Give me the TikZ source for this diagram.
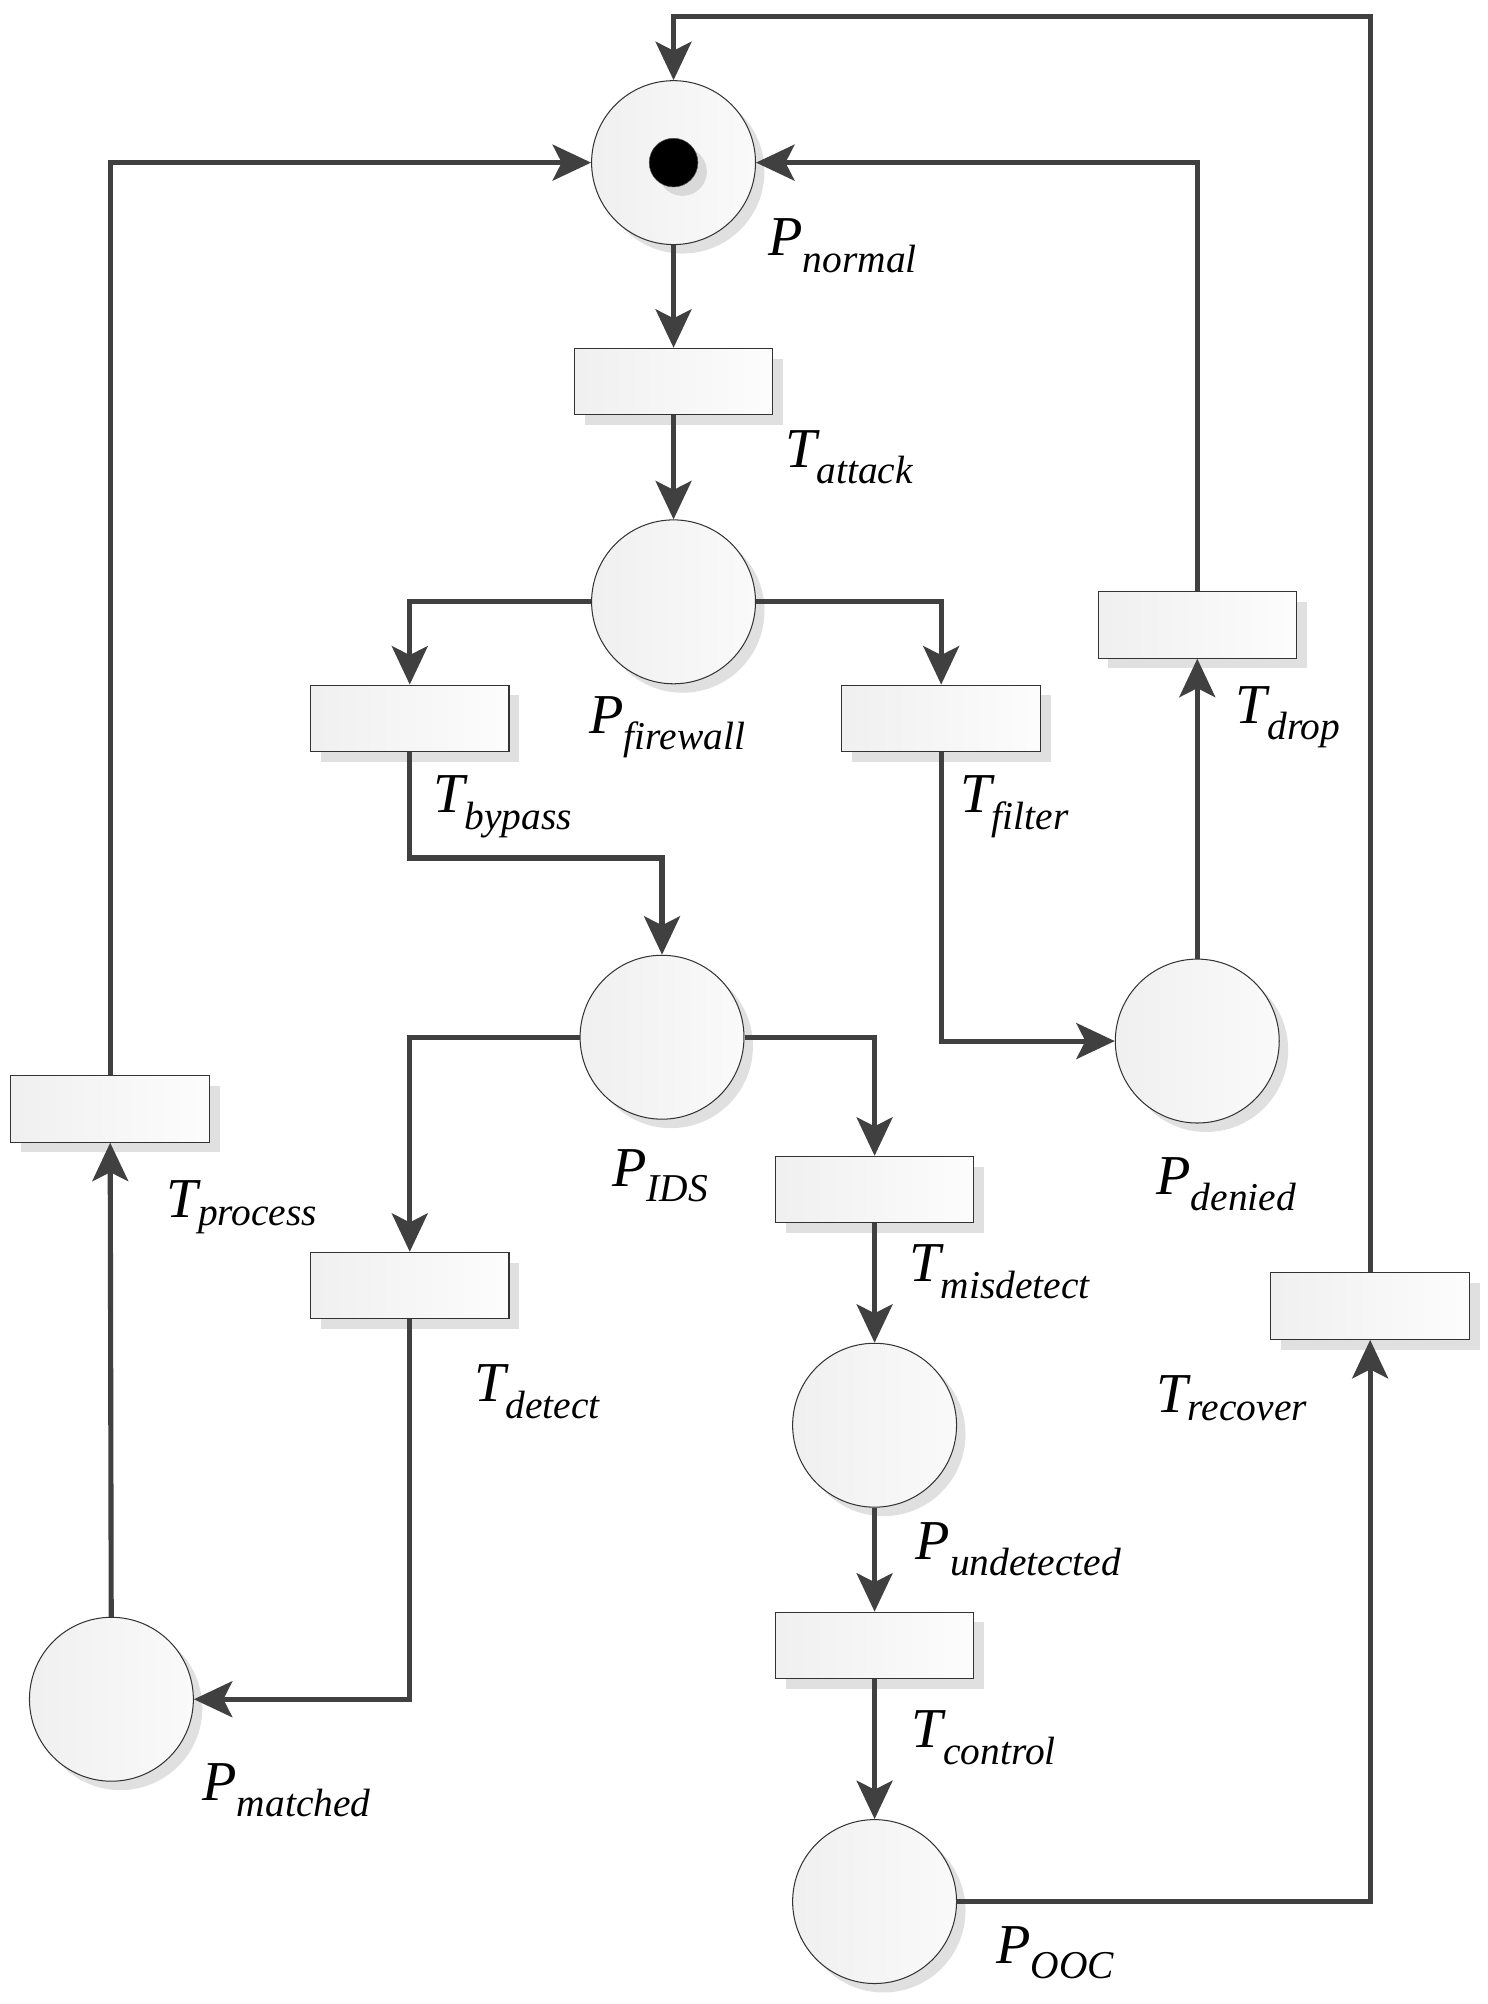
\documentclass[tikz,border=0pt]{standalone}
\usepackage{fontspec}
\setmainfont{Liberation Serif}
\usetikzlibrary{arrows.meta,shadows}
\begin{document}
\begin{tikzpicture}[x=1pt,y=-1pt,
  place/.style={circle,draw=black!80,line width=0.8pt,minimum size=128pt,inner sep=0pt,left color=black!6,right color=black!2,drop shadow={shadow xshift=7pt,shadow yshift=-7pt,fill=black!12,opacity=1}},
  trans/.style={rectangle,draw=black!80,line width=0.8pt,minimum width=155pt,minimum height=52pt,inner sep=0pt,left color=black!6,right color=black!1,drop shadow={shadow xshift=8pt,shadow yshift=-8pt,fill=black!12,opacity=1}},
  arc/.style={draw=black!75,line width=4pt,-{Stealth[length=30pt,width=28pt,inset=7pt]}},
  lab/.style={anchor=west,font=\fontsize{44}{50}\selectfont\itshape,inner sep=0pt}]
\useasboundingbox (0,0) rectangle (1162,1565);
\node[place] (Pn) at (526,127) {};
\node[place] (Pf) at (526,470) {};
\node[place] (Pi) at (517,810) {};
\node[place] (Pd) at (935,813) {};
\node[place] (Pu) at (683,1113) {};
\node[place] (Pm) at (87,1327) {};
\node[place] (Po) at (683,1485) {};
\fill[black!15] (533,134) circle (19);
\node[circle,fill=black,draw=black!70,minimum size=38pt,inner sep=0pt] (tok) at (526,127) {};
\node[trans] (Ta) at (526,298) {};
\node[trans] (Tb) at (320,561) {};
\node[trans] (Tf) at (735,561) {};
\node[trans] (Td) at (935,488) {};
\node[trans] (Tp) at (86,866) {};
\node[trans] (Tde) at (320,1004) {};
\node[trans] (Tmi) at (683,929) {};
\node[trans] (Tc) at (683,1285) {};
\node[trans] (Tr) at (1070,1020) {};
\coordinate (c1) at (1070,13);
\coordinate (c2) at (526,13);
\draw[arc] (Pn) -- (Ta);
\draw[arc] (Ta) -- (Pf);
\draw[arc] (Pf.west) -| (Tb.north);
\draw[arc] (Pf.east) -| (Tf.north);
\draw[arc] (Tb.south) -- (320,670) -| (Pi.north);
\draw[arc] (Tf.south) |- (Pd.west);
\draw[arc] (Pd) -- (Td);
\draw[arc] (Td.north) |- (Pn.east);
\draw[arc] (Pi.west) -| (Tde.north);
\draw[arc] (Pi.east) -| (Tmi.north);
\draw[arc] (Tmi) -- (Pu);
\draw[arc] (Pu) -- (Tc);
\draw[arc] (Tc) -- (Po);
\draw[arc] (Tde.south) |- (Pm.east);
\draw[arc] (Pm) -- (Tp);
\draw[arc] (Tp.north) |- (Pn.west);
\draw[arc] (Po.east) -| (Tr.south);
\draw[arc] (Tr.north) -- (c1) -- (c2) -- (Pn.north);
\node[lab] at (600,192) {P\textsubscript{normal}};
\node[lab] at (613,357) {T\textsubscript{attack}};
\node[lab] at (460,568) {P\textsubscript{firewall}};
\node[lab] at (338,630) {T\textsubscript{bypass}};
\node[lab] at (750,630) {T\textsubscript{filter}};
\node[lab] at (965,560) {T\textsubscript{drop}};
\node[lab] at (903,925) {P\textsubscript{denied}};
\node[lab] at (478,918) {P\textsubscript{IDS}};
\node[lab] at (710,993) {T\textsubscript{misdetect}};
\node[lab] at (130,943) {T\textsubscript{process}};
\node[lab] at (370,1087) {T\textsubscript{detect}};
\node[lab] at (715,1210) {P\textsubscript{undetected}};
\node[lab] at (712,1357) {T\textsubscript{control}};
\node[lab] at (903,1092) {T\textsubscript{recover}};
\node[lab] at (158,1398) {P\textsubscript{matched}};
\node[lab] at (778,1525) {P\textsubscript{OOC}};
\end{tikzpicture}
\end{document}
